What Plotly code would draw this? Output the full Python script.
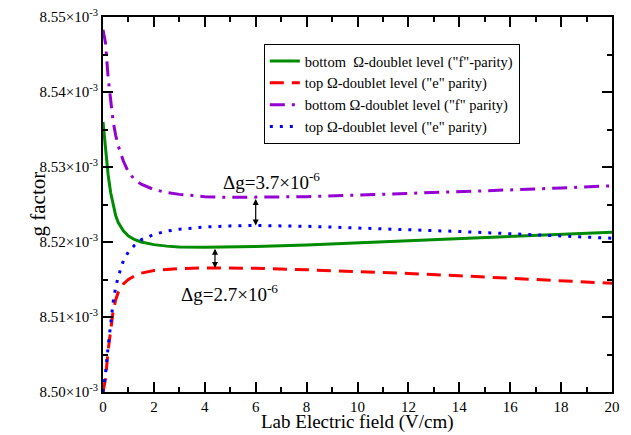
import numpy as np
import plotly.graph_objects as go

# Lab electric field (V/cm)
E = [0, 0.1, 0.2, 0.3, 0.4, 0.5, 0.6, 0.8, 1.0, 1.25, 1.5, 2, 2.5, 3, 4, 5, 6, 8, 10, 12, 14, 16, 18, 20]

# g factor values in units of 1e-3
g_bottom_f = [8.53600, 8.53220, 8.52900, 8.52660, 8.52480, 8.52350, 8.52260, 8.52150, 8.52080, 8.52030,
              8.52000, 8.51965, 8.51945, 8.51935, 8.51930, 8.51930, 8.51940, 8.51960, 8.51990, 8.52020,
              8.52050, 8.52080, 8.52105, 8.52130]
g_top_e = [8.50000, 8.50180, 8.50550, 8.50860, 8.51080, 8.51230, 8.51330, 8.51440, 8.51500, 8.51550,
           8.51585, 8.51620, 8.51635, 8.51645, 8.51655, 8.51655, 8.51650, 8.51630, 8.51610, 8.51580,
           8.51550, 8.51520, 8.51485, 8.51450]
g_bottom_f2 = [8.54830, 8.54650, 8.54200, 8.53860, 8.53600, 8.53420, 8.53280, 8.53080, 8.52930, 8.52830,
               8.52770, 8.52700, 8.52660, 8.52635, 8.52605, 8.52595, 8.52595, 8.52605, 8.52625, 8.52645,
               8.52670, 8.52695, 8.52720, 8.52750]
g_top_e2 = [8.50000, 8.50250, 8.50600, 8.50930, 8.51200, 8.51400, 8.51540, 8.51750, 8.51870, 8.51960,
            8.52030, 8.52100, 8.52145, 8.52170, 8.52200, 8.52215, 8.52220, 8.52210, 8.52190, 8.52165,
            8.52140, 8.52110, 8.52080, 8.52050]

series_names = ['bottom  \u03a9-doublet level ("f"-parity)',
                'top \u03a9-doublet level ("e" parity)',
                'bottom \u03a9-doublet level ("f" parity)',
                'top \u03a9-doublet level ("e" parity)']

ytick_vals = [8.50, 8.51, 8.52, 8.53, 8.54, 8.55]
ytick_text = [f"{v:.2f}\u00d710<sup>-3</sup>" for v in ytick_vals]
xtick_vals = [0, 2, 4, 6, 8, 10, 12, 14, 16, 18, 20]

E_arrow_top = 6.0
E_arrow_bot = 4.4

FONT = "Liberation Serif, Times New Roman, Times, serif"

fig = go.Figure()
fig.add_trace(go.Scatter(x=E, y=g_bottom_f, mode="lines", name=series_names[0],
                         line=dict(color="rgb(0,140,0)", width=3)))
fig.add_trace(go.Scatter(x=E, y=g_top_e, mode="lines", name=series_names[1],
                         line=dict(color="rgb(255,0,0)", width=3, dash="14px,8px")))
fig.add_trace(go.Scatter(x=E, y=g_bottom_f2, mode="lines", name=series_names[2],
                         line=dict(color="rgb(148,0,211)", width=3, dash="15px,7px,3px,7px")))
fig.add_trace(go.Scatter(x=E, y=g_top_e2, mode="lines", name=series_names[3],
                         line=dict(color="rgb(0,0,255)", width=3, dash="3px,7px")))

# double-headed arrows
ya1 = float(np.interp(E_arrow_top, E, g_bottom_f2))
yb1 = float(np.interp(E_arrow_top, E, g_top_e2))
ya2 = float(np.interp(E_arrow_bot, E, g_bottom_f))
yb2 = float(np.interp(E_arrow_bot, E, g_top_e))
for (xx, y1, y2) in [(E_arrow_top, ya1, yb1), (E_arrow_bot, ya2, yb2)]:
    fig.add_annotation(x=xx, y=y2, ax=xx, ay=y1, xref="x", yref="y", axref="x", ayref="y",
                       showarrow=True, arrowhead=2, arrowside="end+start", arrowsize=1.0,
                       arrowwidth=1.2, arrowcolor="black", text="")

fig.add_annotation(x=4.62, y=8.5282, xref="x", yref="y", text="\u0394g=3.7\u00d710<sup>-6</sup>",
                   showarrow=False, xanchor="left", yanchor="middle",
                   font=dict(family=FONT, size=19, color="black"))
fig.add_annotation(x=3.0, y=8.5132, xref="x", yref="y", text="\u0394g=2.7\u00d710<sup>-6</sup>",
                   showarrow=False, xanchor="left", yanchor="middle",
                   font=dict(family=FONT, size=19, color="black"))

# axis titles
fig.add_annotation(x=0.5, y=0, xref="paper", yref="paper", yshift=-42, text="Lab Electric field (V/cm)",
                   showarrow=False, xanchor="center", yanchor="bottom", borderpad=0,
                   font=dict(family=FONT, size=19, color="black"))
fig.add_annotation(x=0, y=0.5, xref="paper", yref="paper", xshift=-66, text="g factor",
                   showarrow=False, xanchor="center", yanchor="middle", textangle=-90,
                   font=dict(family=FONT, size=21, color="black"))

fig.update_layout(
    width=631, height=435,
    margin=dict(l=103, r=19, t=17, b=43),
    paper_bgcolor="white", plot_bgcolor="white",
    font=dict(family=FONT, color="black"),
    showlegend=True,
    legend=dict(x=0.316, y=0.928, xanchor="left", yanchor="top",
                bgcolor="white", bordercolor="black", borderwidth=1,
                font=dict(family=FONT, size=14.5, color="black"),
                tracegroupgap=0, itemwidth=30),
)
fig.update_xaxes(range=[0, 20], tickvals=xtick_vals, ticks="inside", ticklen=10, tickwidth=1.5,
                 tickcolor="black", showline=True, linecolor="black", linewidth=2, mirror="ticks",
                 showgrid=False, zeroline=False, automargin=False,
                 minor=dict(dtick=1, ticks="inside", ticklen=5, tickwidth=1.5, tickcolor="black", showgrid=False),
                 tickfont=dict(family=FONT, size=15, color="black"))
fig.update_yaxes(range=[8.50, 8.55], tickvals=ytick_vals, ticktext=ytick_text, ticks="inside",
                 ticklen=10, tickwidth=1.5, tickcolor="black", showline=True, linecolor="black",
                 linewidth=2, mirror="ticks", showgrid=False, zeroline=False, automargin=False,
                 minor=dict(dtick=0.005, ticks="inside", ticklen=5, tickwidth=1.5, tickcolor="black", showgrid=False),
                 tickfont=dict(family=FONT, size=15, color="black"))

fig.write_html("out.html", config={"displayModeBar": False},
               post_script="document.body.style.margin='0';")
